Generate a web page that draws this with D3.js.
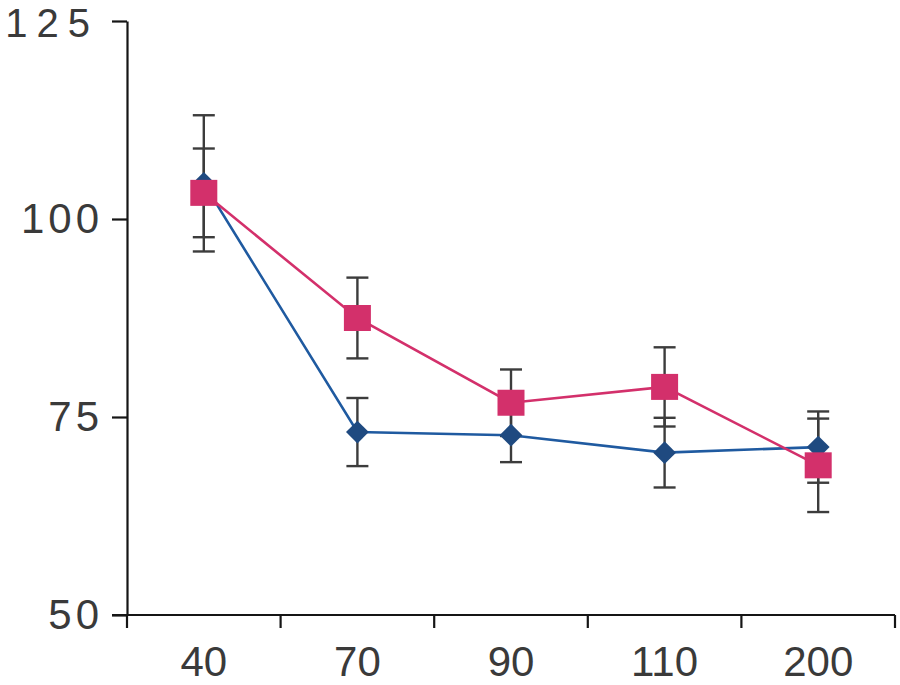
<!DOCTYPE html>
<html>
<head>
<meta charset="utf-8">
<script src="https://cdn.jsdelivr.net/npm/d3@7/dist/d3.min.js"></script>
<style>
  html, body { margin: 0; padding: 0; background: #ffffff; }
  svg { display: block; }
</style>
</head>
<body>
<svg id="chart" width="900" height="685"></svg>
<script>
// ---- data ----
const categories = ["40", "70", "90", "110", "200"];
const blueValues = [104.5, 73.1, 72.7, 70.5, 71.2];
const blueErrors = [8.6, 4.3, 3.4, 4.4, 4.5];
const pinkValues = [103.3, 87.5, 76.8, 78.8, 68.9];
const pinkErrors = [5.6, 5.1, 4.2, 5.0, 5.9];
const yTicks = [50, 75, 100, 125];

// ---- layout ----
const svg = d3.select("#chart");
const plotLeft = 127, plotRight = 895, plotTop = 21, plotBottom = 615;

const x = d3.scaleBand().domain(categories).range([plotLeft, plotRight]).paddingInner(0).paddingOuter(0);
const y = d3.scaleLinear().domain([50, 125]).range([plotBottom, plotTop]);
const cx = c => x(c) + x.bandwidth() / 2;

const axisColor = "#151515";
const textColor = "#3a3a3a";
const errColor = "#3c3c3c";
const blueLine = "#1f5aa0";
const blueMark = "#1f4a80";
const pinkColor = "#d3306b";
const fontFamily = "'Liberation Sans', Arial, sans-serif";

// ---- y axis ----
const yAxis = svg.append("g")
  .attr("transform", `translate(${plotLeft},0)`)
  .call(d3.axisLeft(y).tickValues(yTicks).tickSize(15).tickSizeOuter(0).tickPadding(9).tickFormat(d3.format("d")));
yAxis.select(".domain").attr("stroke", axisColor).attr("stroke-width", 2.2);
yAxis.selectAll(".tick line").attr("stroke", axisColor).attr("stroke-width", 2.2);
yAxis.selectAll(".tick text")
  .attr("fill", textColor)
  .style("font-family", fontFamily)
  .style("font-size", "42px")
  .style("letter-spacing", "4px");
// top label is rendered a bit smaller and more spread in the reference
yAxis.selectAll(".tick text")
  .filter(d => d === 125)
  .style("font-size", "40px")
  .style("letter-spacing", "9px")
  .attr("x", -28)
  .attr("dy", null)
  .attr("y", 15);

// ---- x axis ----
const xg = svg.append("g").attr("transform", `translate(0,${plotBottom})`);
xg.append("line")
  .attr("x1", plotLeft - 15).attr("x2", plotRight)
  .attr("y1", 0).attr("y2", 0)
  .attr("stroke", axisColor).attr("stroke-width", 2.2);
const edges = categories.map(c => x(c)).concat([x(categories[categories.length - 1]) + x.bandwidth()]);
xg.selectAll("line.edge").data(edges).enter().append("line")
  .attr("class", "edge")
  .attr("x1", d => d).attr("x2", d => d)
  .attr("y1", 0).attr("y2", 13)
  .attr("stroke", axisColor).attr("stroke-width", 2.2);

const xAxis = svg.append("g")
  .attr("transform", `translate(0,${plotBottom})`)
  .call(d3.axisBottom(x).tickSize(0));
xAxis.select(".domain").remove();
xAxis.selectAll(".tick text")
  .attr("fill", textColor)
  .attr("dy", null)
  .attr("y", 61)
  .style("font-family", fontFamily)
  .style("font-size", "42px");

// ---- series ----
const series = [
  { name: "blue", values: blueValues, errors: blueErrors, line: blueLine, mark: blueMark, symbol: "diamond" },
  { name: "pink", values: pinkValues, errors: pinkErrors, line: pinkColor, mark: pinkColor, symbol: "square" }
];

// error bars first
series.forEach(s => {
  const g = svg.append("g").attr("class", "err-" + s.name)
    .attr("stroke", errColor).attr("stroke-width", 2.4).attr("fill", "none");
  categories.forEach((c, i) => {
    const v = s.values[i], e = s.errors[i];
    const px = cx(c);
    g.append("line").attr("x1", px).attr("x2", px).attr("y1", y(v + e)).attr("y2", y(v - e));
    g.append("line").attr("x1", px - 11).attr("x2", px + 11).attr("y1", y(v + e)).attr("y2", y(v + e));
    g.append("line").attr("x1", px - 11).attr("x2", px + 11).attr("y1", y(v - e)).attr("y2", y(v - e));
  });
});

const lineGen = d3.line().x(d => cx(d.c)).y(d => y(d.v));
series.forEach(s => {
  const pts = categories.map((c, i) => ({ c, v: s.values[i] }));
  svg.append("path")
    .datum(pts)
    .attr("d", lineGen)
    .attr("fill", "none")
    .attr("stroke", s.line)
    .attr("stroke-width", 2.6);
  if (s.symbol === "square") {
    svg.append("g").selectAll("rect").data(pts).enter().append("rect")
      .attr("x", d => cx(d.c) - 13.5).attr("y", d => y(d.v) - 13)
      .attr("width", 27).attr("height", 26)
      .attr("fill", s.mark);
  } else {
    const sym = d3.symbol().type(d3.symbolSquare).size(260);
    svg.append("g").selectAll("path").data(pts).enter().append("path")
      .attr("d", sym)
      .attr("transform", d => `translate(${cx(d.c)},${y(d.v)}) rotate(45)`)
      .attr("fill", s.mark);
  }
});
</script>
</body>
</html>
